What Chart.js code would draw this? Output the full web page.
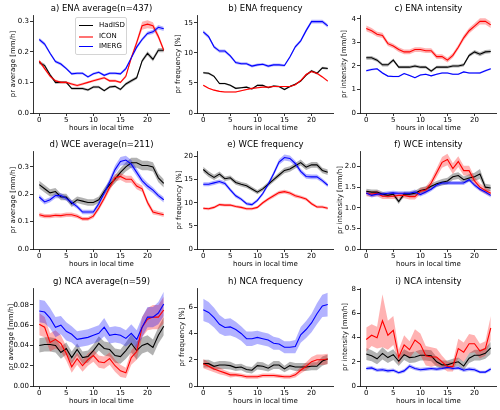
<!DOCTYPE html>
<html>
<head>
<meta charset="utf-8">
<script src="https://cdn.jsdelivr.net/npm/chart.js@4.4.1/dist/chart.umd.min.js"></script>
<style>
  body { margin: 0; background: #fff; }
  #grid { position: relative; width: 500px; height: 410px; overflow: hidden; font-family: "DejaVu Sans", sans-serif; }
  .panel { position: absolute; width: 170px; height: 136px; }
  #legend { position: absolute; left: 75px; top: 17px; width: 50px; height: 36px; border: 0.8px solid #d4d4d4; border-radius: 2px; background: rgba(255,255,255,0.8); font-size: 7px; color: #000; }
  .item { position: absolute; left: 3px; height: 9px; line-height: 9px; white-space: nowrap; }
  .item span.sw { position: absolute; left: 0; top: 4px; width: 14px; }
  .item span.tx { position: absolute; left: 20px; top: 0; }
</style>
</head>
<body>
<div id="grid"></div>
<script>
const hours = [0,1,2,3,4,5,6,7,8,9,10,11,12,13,14,15,16,17,18,19,20,21,22,23];
const xTicks = [0, 5, 10, 15, 20];
const seriesNames = ["HadISD", "ICON", "IMERG"];

// a) ENA average
const enaAvgHad   = [0.165,0.155,0.125,0.100,0.100,0.100,0.080,0.080,0.080,0.075,0.085,0.085,0.073,0.085,0.087,0.077,0.095,0.105,0.115,0.170,0.195,0.175,0.205,0.205];
const enaAvgIcon  = [0.170,0.145,0.120,0.105,0.100,0.100,0.095,0.090,0.095,0.100,0.105,0.110,0.115,0.105,0.105,0.100,0.120,0.180,0.230,0.285,0.290,0.285,0.250,0.205];
const enaAvgImerg = [0.240,0.225,0.195,0.168,0.160,0.145,0.128,0.130,0.130,0.118,0.128,0.133,0.123,0.130,0.130,0.128,0.145,0.180,0.215,0.240,0.260,0.265,0.280,0.275];
const enaAvgHadSd   = [0.006,0.006,0.005,0.005,0.004,0.004,0.004,0.004,0.004,0.004,0.004,0.004,0.004,0.004,0.004,0.004,0.005,0.005,0.005,0.006,0.007,0.007,0.007,0.007];
const enaAvgIconSd  = [0.005,0.005,0.004,0.004,0.004,0.004,0.004,0.004,0.004,0.004,0.004,0.004,0.004,0.004,0.004,0.004,0.005,0.007,0.009,0.013,0.013,0.011,0.009,0.007];
const enaAvgImergSd = [0.006,0.006,0.005,0.005,0.005,0.004,0.004,0.004,0.004,0.004,0.004,0.004,0.004,0.004,0.004,0.004,0.005,0.005,0.006,0.006,0.006,0.007,0.007,0.007];

// b) ENA frequency
const enaFrqHad   = [6.7,6.6,6.1,4.9,4.9,4.6,4.1,4.2,4.3,4.0,4.6,4.6,4.2,4.5,4.4,3.9,4.4,4.8,5.3,6.3,7.0,6.6,7.5,7.4];
const enaFrqIcon  = [4.6,4.1,3.8,3.6,3.5,3.5,3.5,3.7,3.9,4.1,4.2,4.3,4.3,4.4,4.4,4.4,4.4,4.7,5.4,6.4,6.9,6.6,6.0,5.3];
const enaFrqImerg = [13.5,12.7,11.0,10.3,10.3,9.5,8.4,8.2,8.2,7.8,8.0,8.1,7.8,8.0,8.0,7.9,9.3,11.0,12.0,13.7,15.2,15.2,15.2,14.5];
const enaFrqHadSd   = [0.18,0.18,0.16,0.15,0.15,0.14,0.13,0.13,0.13,0.13,0.14,0.14,0.13,0.14,0.14,0.13,0.14,0.15,0.16,0.17,0.18,0.18,0.19,0.19];
const enaFrqIconSd  = [0.12,0.11,0.10,0.10,0.10,0.10,0.10,0.10,0.10,0.11,0.11,0.11,0.11,0.11,0.11,0.11,0.11,0.12,0.14,0.16,0.17,0.16,0.15,0.14];
const enaFrqImergSd = [0.30,0.29,0.27,0.26,0.26,0.25,0.23,0.23,0.23,0.22,0.22,0.22,0.22,0.22,0.22,0.22,0.24,0.26,0.28,0.30,0.32,0.32,0.32,0.31];

// c) ENA intensity
const enaIntHad   = [2.35,2.35,2.25,2.05,2.05,2.25,1.95,1.95,1.95,2.0,1.95,1.95,1.78,1.95,1.95,1.95,2.0,2.0,2.05,2.45,2.6,2.5,2.6,2.62];
const enaIntIcon  = [3.6,3.5,3.35,3.3,2.95,2.85,2.7,2.6,2.6,2.7,2.7,2.65,2.65,2.4,2.4,2.25,2.45,2.8,3.2,3.5,3.7,3.9,3.9,3.75];
const enaIntImerg = [1.8,1.85,1.88,1.7,1.57,1.55,1.55,1.68,1.6,1.5,1.62,1.65,1.58,1.65,1.7,1.7,1.65,1.65,1.75,1.7,1.7,1.7,1.8,1.88];
const enaIntHadSd   = [0.08,0.08,0.07,0.07,0.07,0.07,0.06,0.06,0.06,0.06,0.06,0.06,0.06,0.06,0.06,0.06,0.06,0.06,0.07,0.07,0.08,0.08,0.08,0.08];
const enaIntIconSd  = [0.12,0.12,0.11,0.11,0.10,0.10,0.10,0.10,0.10,0.10,0.10,0.10,0.10,0.10,0.10,0.10,0.10,0.10,0.11,0.12,0.12,0.13,0.13,0.13];
const enaIntImergSd = [0.04,0.04,0.04,0.04,0.03,0.03,0.03,0.03,0.03,0.03,0.03,0.03,0.03,0.03,0.03,0.03,0.03,0.03,0.03,0.03,0.03,0.04,0.04,0.04];

// d) WCE average
const wceAvgHad   = [0.235,0.22,0.205,0.21,0.19,0.19,0.165,0.18,0.175,0.17,0.17,0.18,0.21,0.235,0.255,0.28,0.30,0.315,0.315,0.305,0.305,0.30,0.26,0.24];
const wceAvgIcon  = [0.125,0.12,0.12,0.123,0.122,0.125,0.125,0.12,0.11,0.11,0.12,0.15,0.185,0.225,0.26,0.265,0.255,0.255,0.23,0.22,0.17,0.135,0.13,0.125];
const wceAvgImerg = [0.19,0.172,0.18,0.195,0.195,0.185,0.17,0.155,0.135,0.135,0.135,0.165,0.205,0.245,0.29,0.32,0.325,0.31,0.28,0.25,0.23,0.215,0.195,0.18];
const wceAvgHadSd   = [0.014,0.014,0.013,0.013,0.012,0.012,0.012,0.012,0.012,0.012,0.012,0.012,0.013,0.014,0.015,0.016,0.017,0.018,0.018,0.017,0.017,0.017,0.016,0.015];
const wceAvgIconSd  = [0.008,0.008,0.008,0.008,0.008,0.008,0.008,0.008,0.007,0.007,0.008,0.009,0.010,0.012,0.013,0.013,0.013,0.013,0.012,0.012,0.010,0.009,0.008,0.008];
const wceAvgImergSd = [0.010,0.009,0.009,0.010,0.010,0.009,0.009,0.008,0.008,0.008,0.008,0.009,0.011,0.013,0.015,0.016,0.016,0.015,0.014,0.013,0.012,0.011,0.010,0.010];

// e) WCE frequency
const wceFrqHad   = [17.2,16.2,15.5,16.2,15.2,15.4,14.4,14.0,13.7,13.0,12.3,13.0,14.0,15.0,16.0,17.0,17.3,18.0,18.7,17.7,18.2,18.2,17.0,16.6];
const wceFrqIcon  = [8.8,8.7,9.0,9.6,9.5,9.5,9.2,9.0,8.7,8.7,9.0,10.0,10.8,11.5,12.2,12.4,12.1,11.5,11.2,10.8,9.8,9.1,9.1,8.8];
const wceFrqImerg = [14.0,14.0,14.3,14.6,14.2,12.8,11.5,10.8,9.8,9.6,10.5,12.0,14.0,16.3,18.8,19.8,19.6,18.5,16.8,15.7,15.6,15.6,14.8,13.8];
const wceFrqHadSd   = [0.6,0.6,0.55,0.55,0.5,0.5,0.5,0.5,0.5,0.45,0.45,0.45,0.5,0.5,0.55,0.6,0.6,0.6,0.65,0.6,0.6,0.6,0.6,0.6];
const wceFrqIconSd  = [0.3,0.3,0.3,0.3,0.3,0.3,0.3,0.3,0.3,0.3,0.3,0.35,0.35,0.4,0.4,0.4,0.4,0.4,0.35,0.35,0.35,0.3,0.3,0.3];
const wceFrqImergSd = [0.45,0.45,0.45,0.45,0.45,0.4,0.4,0.35,0.35,0.35,0.35,0.4,0.45,0.5,0.6,0.65,0.65,0.6,0.55,0.5,0.5,0.5,0.45,0.45];

// f) WCE intensity
const wceIntHad   = [1.40,1.38,1.38,1.33,1.30,1.33,1.15,1.33,1.33,1.35,1.42,1.45,1.52,1.58,1.62,1.65,1.75,1.78,1.68,1.72,1.75,1.82,1.50,1.48];
const wceIntIcon  = [1.35,1.33,1.35,1.28,1.28,1.28,1.30,1.30,1.27,1.27,1.40,1.43,1.60,1.85,2.10,2.17,1.95,2.12,1.90,1.90,1.65,1.50,1.42,1.35];
const wceIntImerg = [1.36,1.30,1.33,1.33,1.35,1.36,1.35,1.35,1.35,1.38,1.32,1.38,1.45,1.55,1.60,1.60,1.60,1.60,1.60,1.68,1.55,1.45,1.38,1.30];
const wceIntHadSd   = [0.06,0.06,0.06,0.06,0.06,0.06,0.06,0.06,0.06,0.06,0.07,0.07,0.07,0.07,0.08,0.08,0.08,0.08,0.08,0.09,0.10,0.12,0.08,0.08];
const wceIntIconSd  = [0.07,0.07,0.07,0.07,0.07,0.07,0.07,0.07,0.07,0.07,0.08,0.08,0.09,0.11,0.13,0.14,0.13,0.13,0.12,0.12,0.10,0.09,0.08,0.07];
const wceIntImergSd = [0.05,0.05,0.05,0.05,0.05,0.05,0.05,0.05,0.05,0.06,0.05,0.05,0.05,0.05,0.05,0.05,0.05,0.05,0.05,0.05,0.05,0.05,0.05,0.05];

// g) NCA average
const ncaAvgHad   = [0.040,0.041,0.041,0.040,0.033,0.037,0.028,0.036,0.028,0.029,0.035,0.042,0.037,0.036,0.030,0.029,0.035,0.042,0.035,0.040,0.042,0.038,0.050,0.059];
const ncaAvgIcon  = [0.061,0.058,0.043,0.046,0.042,0.032,0.019,0.027,0.020,0.026,0.030,0.024,0.023,0.027,0.020,0.015,0.013,0.028,0.034,0.058,0.066,0.068,0.068,0.075];
const ncaAvgImerg = [0.074,0.073,0.067,0.058,0.060,0.054,0.051,0.046,0.047,0.048,0.050,0.052,0.058,0.050,0.051,0.050,0.047,0.052,0.046,0.058,0.068,0.068,0.072,0.081];
const ncaAvgHadSd   = [0.007,0.007,0.007,0.007,0.006,0.006,0.006,0.006,0.006,0.006,0.006,0.007,0.007,0.007,0.007,0.007,0.008,0.009,0.009,0.008,0.008,0.008,0.008,0.009];
const ncaAvgIconSd  = [0.011,0.010,0.009,0.009,0.008,0.007,0.006,0.006,0.006,0.006,0.006,0.006,0.006,0.006,0.006,0.006,0.005,0.007,0.008,0.010,0.011,0.012,0.012,0.013];
const ncaAvgImergSd = [0.011,0.011,0.010,0.010,0.009,0.009,0.008,0.008,0.008,0.008,0.008,0.008,0.009,0.008,0.008,0.008,0.008,0.009,0.009,0.010,0.010,0.010,0.011,0.012];

// h) NCA frequency
const ncaFrqHad   = [1.7,1.7,1.5,1.6,1.6,1.55,1.4,1.45,1.25,1.2,1.55,1.5,1.35,1.6,1.6,1.3,1.55,1.45,1.45,1.45,1.5,1.5,1.9,2.05];
const ncaFrqIcon  = [1.7,1.5,1.3,1.15,1.0,0.85,0.85,0.8,0.7,0.7,0.7,0.8,0.8,0.8,0.75,0.7,0.7,0.85,1.2,1.5,1.85,2.0,2.0,2.05];
const ncaFrqImerg = [5.8,5.6,5.2,4.7,4.45,4.5,4.3,4.0,3.6,3.6,3.7,3.6,3.5,3.25,3.2,2.95,2.95,3.0,3.9,4.3,4.8,5.5,6.1,6.2];
const ncaFrqHadSd   = [0.3,0.3,0.3,0.3,0.3,0.3,0.25,0.25,0.25,0.25,0.3,0.3,0.25,0.3,0.3,0.25,0.3,0.3,0.3,0.3,0.3,0.3,0.35,0.35];
const ncaFrqIconSd  = [0.35,0.3,0.25,0.25,0.2,0.2,0.15,0.15,0.15,0.15,0.15,0.15,0.15,0.15,0.15,0.15,0.15,0.2,0.25,0.3,0.35,0.4,0.4,0.4];
const ncaFrqImergSd = [0.85,0.8,0.75,0.7,0.65,0.65,0.6,0.55,0.55,0.55,0.5,0.5,0.5,0.5,0.45,0.45,0.45,0.5,0.6,0.65,0.7,0.8,0.85,0.9];

// i) NCA intensity
const ncaIntHad   = [2.65,2.5,2.25,2.7,2.35,2.6,2.05,2.6,2.35,2.4,2.55,2.55,2.5,2.0,1.75,1.75,1.9,2.0,1.65,2.3,2.55,2.55,2.7,3.15];
const ncaIntIcon  = [3.85,4.2,4.0,5.4,4.2,4.6,2.4,3.4,3.0,3.8,3.45,2.5,2.4,2.4,2.0,1.6,1.6,3.1,2.8,3.5,3.5,2.9,3.1,4.8];
const ncaIntImerg = [1.45,1.5,1.3,1.35,1.25,1.3,1.1,1.25,1.65,1.45,1.35,1.4,1.45,1.4,1.45,1.55,1.45,1.5,1.3,1.4,1.35,1.15,1.15,1.4];
const ncaIntHadSd   = [0.5,0.45,0.45,0.5,0.45,0.45,0.4,0.45,0.45,0.45,0.45,0.45,0.45,0.4,0.35,0.35,0.35,0.35,0.35,0.4,0.45,0.45,0.45,0.5];
const ncaIntIconSd  = [1.0,0.9,0.9,2.2,1.2,1.2,0.6,0.8,0.7,0.9,0.9,0.8,0.8,0.7,0.5,0.4,0.4,0.8,0.8,0.8,0.7,0.6,0.6,1.0];
const ncaIntImergSd = [0.15,0.15,0.15,0.15,0.15,0.15,0.12,0.15,0.18,0.15,0.15,0.15,0.15,0.15,0.15,0.15,0.15,0.15,0.15,0.15,0.15,0.12,0.12,0.15];

// y tick labels per panel
const avgTicksEna = [0, 0.1, 0.2, 0.3];
const frqTicksEna = [0, 5, 10, 15];
const intTicksEna = [0, 1, 2, 3, 4];
const avgTicksWce = [0, 0.1, 0.2, 0.3];
const frqTicksWce = [0, 5, 10, 15, 20];
const intTicksWce = [0, 0.5, 1.0, 1.5, 2.0];
const avgTicksNca = [0, 0.02, 0.04, 0.06, 0.08];
const frqTicksNca = [0, 2, 4, 6];
const intTicksNca = [0, 2, 4, 6, 8];

const lineColors = ["#000000", "#ff0000", "#0000ff"];
const bandColors = ["rgba(0,0,0,0.3)", "rgba(255,0,0,0.3)", "rgba(0,0,255,0.3)"];

const colLeft = [0, 164, 327];
const rowTop = [0, 136, 273];

const panels = [
  { title: "a) ENA average(n=437)", ylabel: "pr average [mm/h]", ymax: 0.32, ticks: avgTicksEna, dec: 1, gap: 20, mean: [enaAvgHad, enaAvgIcon, enaAvgImerg], sd: [enaAvgHadSd, enaAvgIconSd, enaAvgImergSd] },
  { title: "b) ENA frequency", ylabel: "pr frequency [%]", ymax: 16.3, ticks: frqTicksEna, dec: 0, gap: 18.5, mean: [enaFrqHad, enaFrqIcon, enaFrqImerg], sd: [enaFrqHadSd, enaFrqIconSd, enaFrqImergSd] },
  { title: "c) ENA intensity", ylabel: "pr intensity [mm/h]", ymax: 4.17, ticks: intTicksEna, dec: 0, gap: 16, mean: [enaIntHad, enaIntIcon, enaIntImerg], sd: [enaIntHadSd, enaIntIconSd, enaIntImergSd] },
  { title: "d) WCE average(n=211)", ylabel: "pr average [mm/h]", ymax: 0.358, ticks: avgTicksWce, dec: 1, gap: 20, mean: [wceAvgHad, wceAvgIcon, wceAvgImerg], sd: [wceAvgHadSd, wceAvgIconSd, wceAvgImergSd] },
  { title: "e) WCE frequency", ylabel: "pr frequency [%]", ymax: 21.2, ticks: frqTicksWce, dec: 0, gap: 18, mean: [wceFrqHad, wceFrqIcon, wceFrqImerg], sd: [wceFrqHadSd, wceFrqIconSd, wceFrqImergSd] },
  { title: "f) WCE intensity", ylabel: "pr intensity [mm/h]", ymax: 2.376, ticks: intTicksWce, dec: 1, gap: 20, mean: [wceIntHad, wceIntIcon, wceIntImerg], sd: [wceIntHadSd, wceIntIconSd, wceIntImergSd] },
  { title: "g) NCA average(n=59)", ylabel: "pr average [mm/h]", ymax: 0.0967, ticks: avgTicksNca, dec: 2, gap: 21.5, mean: [ncaAvgHad, ncaAvgIcon, ncaAvgImerg], sd: [ncaAvgHadSd, ncaAvgIconSd, ncaAvgImergSd] },
  { title: "h) NCA frequency", ylabel: "pr frequency [%]", ymax: 7.46, ticks: frqTicksNca, dec: 0, gap: 14.5, mean: [ncaFrqHad, ncaFrqIcon, ncaFrqImerg], sd: [ncaFrqHadSd, ncaFrqIconSd, ncaFrqImergSd] },
  { title: "i) NCA intensity", ylabel: "pr intensity [mm/h]", ymax: 8.11, ticks: intTicksNca, dec: 0, gap: 14.5, mean: [ncaIntHad, ncaIntIcon, ncaIntImerg], sd: [ncaIntHadSd, ncaIntIconSd, ncaIntImergSd] },
];

Chart.defaults.font.family = "'DejaVu Sans', sans-serif";
Chart.defaults.color = "#000";

const AXIS_W = 33;   // left axis strip
const XAXIS_H = 23;  // bottom axis strip

// lines first (drawn last => on top), bands after them
function buildDatasets(p) {
  const lines = [];
  const bands = [];
  for (let s = 2; s >= 0; s--) {
    lines.push({
      label: seriesNames[s],
      data: hours.map((h, i) => ({ x: h, y: p.mean[s][i] })),
      borderColor: lineColors[s],
      borderWidth: 1.1,
      pointRadius: 0,
      fill: false,
    });
  }
  for (let s = 2; s >= 0; s--) {
    const loIndex = 3 + bands.length;
    bands.push({
      label: seriesNames[s] + " lo",
      data: hours.map((h, i) => ({ x: h, y: p.mean[s][i] - p.sd[s][i] })),
      borderWidth: 0,
      pointRadius: 0,
      fill: false,
    });
    bands.push({
      label: seriesNames[s] + " hi",
      data: hours.map((h, i) => ({ x: h, y: p.mean[s][i] + p.sd[s][i] })),
      borderWidth: 0,
      pointRadius: 0,
      backgroundColor: bandColors[s],
      fill: loIndex,
    });
  }
  return lines.concat(bands);
}

const grid = document.getElementById("grid");

panels.forEach((p, k) => {
  const box = document.createElement("div");
  box.className = "panel";
  box.style.left = colLeft[k % 3] + "px";
  box.style.top = rowTop[Math.floor(k / 3)] + "px";
  const canvas = document.createElement("canvas");
  canvas.width = 170;
  canvas.height = 136;
  box.appendChild(canvas);
  grid.appendChild(box);

  new Chart(canvas, {
    type: "line",
    data: { datasets: buildDatasets(p) },
    options: {
      responsive: false,
      animation: false,
      events: [],
      layout: { padding: 0 },
      plugins: {
        legend: { display: false },
        tooltip: { enabled: false },
        title: {
          display: true,
          text: p.title,
          fullSize: false,
          font: { size: 8.5, weight: "normal" },
          padding: { top: 4, bottom: 0.8 },
        },
      },
      scales: {
        x: {
          type: "linear",
          min: -1.15,
          max: 24.15,
          afterBuildTicks: (s) => { s.ticks = xTicks.map((v) => ({ value: v })); },
          afterFit: (s) => { s.height = XAXIS_H; },
          ticks: { font: { size: 7 }, padding: 0, maxRotation: 0, callback: (v) => String(v) },
          grid: { drawOnChartArea: false, color: "#000", lineWidth: 0.8, tickLength: 3 },
          border: { display: true, color: "#000", width: 0.8 },
          title: { display: true, text: "hours in local time", font: { size: 7 }, padding: { top: 0, bottom: 3.8 } },
        },
        y: {
          min: 0,
          max: p.ymax,
          afterBuildTicks: (s) => { s.ticks = p.ticks.map((v) => ({ value: v })); },
          afterFit: (s) => { s.width = AXIS_W; },
          ticks: { font: { size: 7 }, padding: 1, callback: (v) => Number(v).toFixed(p.dec) },
          grid: { drawOnChartArea: false, color: "#000", lineWidth: 0.8, tickLength: 3 },
          border: { display: true, color: "#000", width: 0.8 },
          title: { display: true, text: p.ylabel, font: { size: 7 }, padding: { top: AXIS_W - p.gap - 4.2, bottom: 0 } },
        },
      },
    },
  });
});

// legend in panel a
const legend = document.createElement("div");
legend.id = "legend";
seriesNames.forEach((name, s) => {
  const item = document.createElement("div");
  item.className = "item";
  item.style.top = (3 + s * 10.5) + "px";
  const sw = document.createElement("span");
  sw.className = "sw";
  sw.style.borderTop = (s === 1 ? 2.4 : 1.4) + "px solid " + (s === 1 ? "rgba(255,0,0,0.55)" : lineColors[s]);
  const tx = document.createElement("span");
  tx.className = "tx";
  tx.textContent = name;
  item.appendChild(sw);
  item.appendChild(tx);
  legend.appendChild(item);
});
grid.appendChild(legend);
</script>
</body>
</html>
